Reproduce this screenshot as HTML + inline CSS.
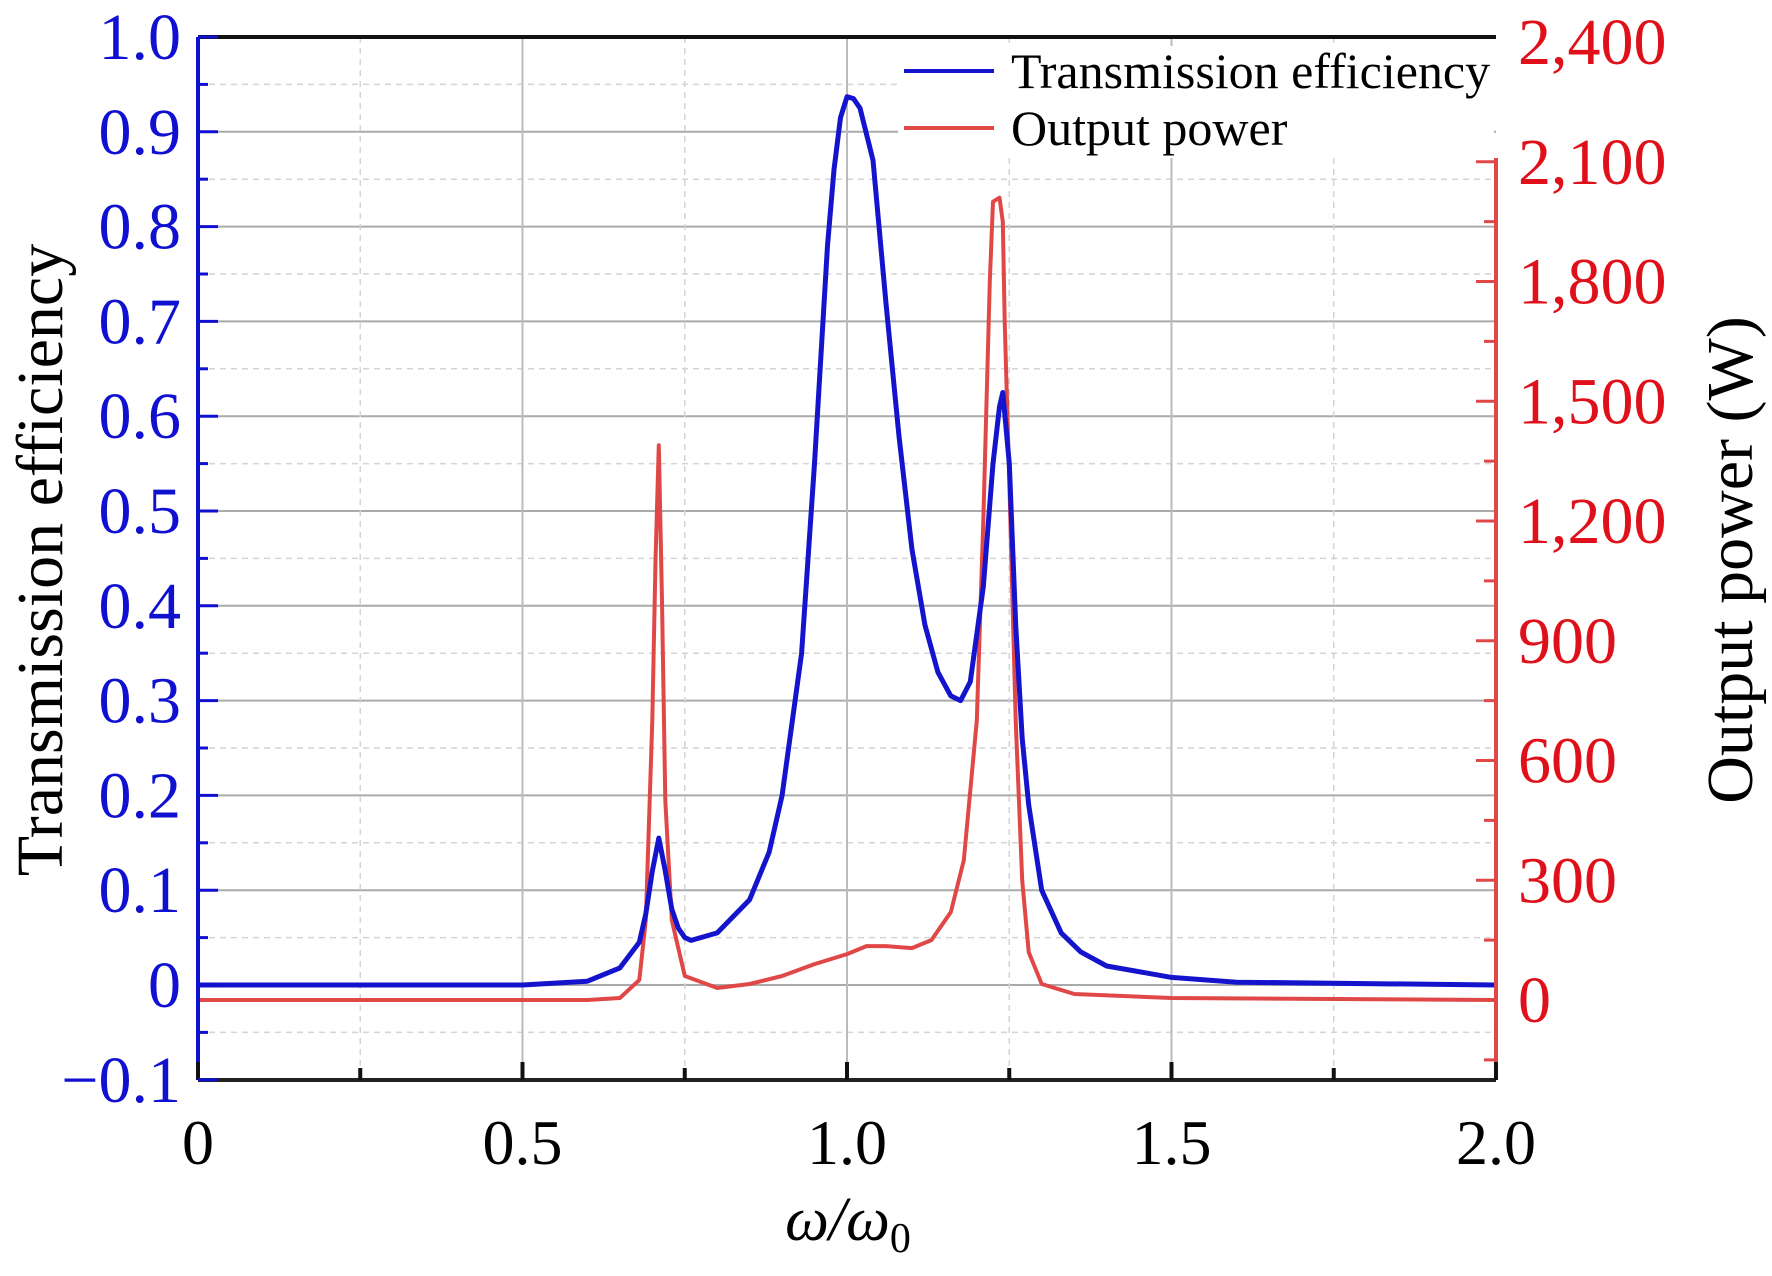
<!DOCTYPE html>
<html><head><meta charset="utf-8"><style>
html,body{margin:0;padding:0;background:#fff;}
svg{display:block;font-family:"Liberation Serif",serif;}
</style></head><body>
<svg id="chart" width="1772" height="1276" viewBox="0 0 1772 1276" xmlns="http://www.w3.org/2000/svg">
<g id="grid"></g>
<g id="series"></g>
<g id="axes"></g>
<g id="legend"></g>
</svg>
<script>
const xTicks = [0, 0.5, 1.0, 1.5, 2.0];
const xTickLabels = ["0", "0.5", "1.0", "1.5", "2.0"];
const yLeftTicks = [-0.1, 0, 0.1, 0.2, 0.3, 0.4, 0.5, 0.6, 0.7, 0.8, 0.9, 1.0];
const yLeftLabels = ["\u22120.1", "0", "0.1", "0.2", "0.3", "0.4", "0.5", "0.6", "0.7", "0.8", "0.9", "1.0"];
const yRightTicks = [0, 300, 600, 900, 1200, 1500, 1800, 2100, 2400];
const yRightLabels = ["0", "300", "600", "900", "1,200", "1,500", "1,800", "2,100", "2,400"];

const transX = [0,0.5,0.6,0.65,0.68,0.69,0.70,0.71,0.72,0.73,0.74,0.75,0.76,0.8,0.85,0.88,0.9,0.93,0.95,0.97,0.98,0.99,1.0,1.01,1.02,1.04,1.06,1.08,1.1,1.12,1.14,1.16,1.175,1.19,1.21,1.225,1.235,1.24,1.25,1.26,1.27,1.28,1.3,1.33,1.36,1.4,1.5,1.6,2.0];
const transY = [0,0,0.004,0.018,0.045,0.075,0.12,0.155,0.12,0.08,0.06,0.05,0.047,0.055,0.09,0.14,0.2,0.35,0.55,0.78,0.86,0.915,0.937,0.935,0.925,0.87,0.72,0.58,0.46,0.38,0.33,0.305,0.30,0.32,0.42,0.55,0.61,0.625,0.55,0.38,0.26,0.19,0.1,0.055,0.035,0.02,0.008,0.003,0];

const powX = [0,0.6,0.65,0.68,0.69,0.70,0.705,0.71,0.715,0.72,0.73,0.75,0.8,0.85,0.9,0.95,1.0,1.03,1.06,1.1,1.13,1.16,1.18,1.2,1.21,1.22,1.225,1.235,1.24,1.243,1.25,1.26,1.27,1.28,1.3,1.35,1.5,2.0];
const powY = [0,0,5,50,200,700,1100,1390,1000,500,200,60,30,40,60,90,115,135,135,130,150,220,350,700,1200,1800,2000,2010,1950,1700,1300,700,300,120,40,15,5,0];

const L=198,R=1496,T=37,B=1080;
const sx=v=>L+(v-0)/2*(R-L);
const syL=v=>985-v*948;
const syR=v=>1000-v*(958/2400);
const NS="http://www.w3.org/2000/svg";
function mk(tag,attrs,parent){const e=document.createElementNS(NS,tag);for(const k in attrs)e.setAttribute(k,attrs[k]);parent.appendChild(e);return e;}
const grid=document.getElementById('grid'),series=document.getElementById('series'),axes=document.getElementById('axes'),legend=document.getElementById('legend');

for(let i=0;i<=22;i++){const v=-0.1+i*0.05;const y=syL(v);const major=i%2==0;
 const g=mk('line',{x1:L,x2:R,y1:y,y2:y,stroke:major?'#aaa':'#d4d4d4','stroke-width':major?2:1.5,'stroke-dasharray':major?'none':'6 5'},grid);
 
 }
for(let i=1;i<8;i++){const v=i*0.25;const x=sx(v);const major=i%2==0;
 const g=mk('line',{x1:x,x2:x,y1:T,y2:B,stroke:major?'#bbb':'#d4d4d4','stroke-width':major?2:1.5,'stroke-dasharray':major?'none':'6 5'},grid);
 
 }

const tp=transX.map((x,i)=>sx(x).toFixed(1)+','+syL(transY[i]).toFixed(1)).join(' ');
const pp=powX.map((x,i)=>sx(x).toFixed(1)+','+syR(powY[i]).toFixed(1)).join(' ');
const pl=mk('polyline',{points:pp,fill:'none',stroke:'#e04848','stroke-width':4,'stroke-linejoin':'round'},series);


const tl=mk('polyline',{points:tp,fill:'none',stroke:'#1414cc','stroke-width':5,'stroke-linejoin':'round'},series);



const lb=mk('rect',{x:898,y:46,width:596,height:112,fill:'#fff'},legend);


const l1=mk('line',{x1:904,x2:994,y1:71,y2:71,stroke:'#1414cc','stroke-width':4},legend);


const t1=mk('text',{x:1011,y:88,'font-size':50,fill:'#000'},legend);t1.textContent='Transmission efficiency';


const l2=mk('line',{x1:904,x2:994,y1:128,y2:128,stroke:'#e04848','stroke-width':4},legend);


const t2=mk('text',{x:1011,y:145,'font-size':50,fill:'#000'},legend);t2.textContent='Output power';



let s;
s=mk('line',{x1:L,x2:R,y1:T,y2:T,stroke:'#111','stroke-width':4},axes);
s=mk('line',{x1:L,x2:R,y1:B,y2:B,stroke:'#222','stroke-width':4},axes);
s=mk('line',{x1:L,x2:L,y1:T,y2:B,stroke:'#1010d0','stroke-width':4},axes);
s=mk('line',{x1:R,x2:R,y1:158,y2:B,stroke:'#e04848','stroke-width':4},axes);

for(let i=0;i<=8;i++){const x=sx(i*0.25);const t=mk('line',{x1:x,x2:x,y1:B,y2:B-(i%2==0?18:12),stroke:'#111','stroke-width':4},axes);
 
 }
xTicks.forEach((v,i)=>{const t=mk('text',{x:sx(v),y:1164,'font-size':64,'text-anchor':'middle',fill:'#000'},axes);t.textContent=xTickLabels[i];
 
 });

for(let i=0;i<=22;i++){const y=syL(-0.1+i*0.05);const t=mk('line',{x1:L,x2:L+(i%2==0?20:10),y1:y,y2:y,stroke:'#1010d0','stroke-width':3},axes);
 
 }
yLeftTicks.forEach((v,i)=>{const t=mk('text',{x:181,y:syL(v)+22,'font-size':66,'text-anchor':'end',fill:'#1010d0'},axes);t.textContent=yLeftLabels[i];
 
 });

for(let v=-150;v<=2400;v+=150){const y=syR(v);if(y<158)continue;const t=mk('line',{x1:R,x2:R-(v%300==0?20:12),y1:y,y2:y,stroke:'#e04848','stroke-width':3},axes);
 
 }
yRightTicks.forEach((v,i)=>{const t=mk('text',{x:1518,y:syR(v)+22,'font-size':66,'text-anchor':'start',fill:'#e0101a'},axes);t.textContent=yRightLabels[i];
 
 });

let tt=mk('text',{x:0,y:0,'font-size':66,'text-anchor':'middle',fill:'#000',transform:'translate(62,560) rotate(-90)'},axes);tt.textContent='Transmission efficiency';


tt=mk('text',{x:0,y:0,'font-size':66,'text-anchor':'middle',fill:'#000',transform:'translate(1752,560) rotate(-90)'},axes);tt.textContent='Output power (W)';


tt=mk('text',{x:848,y:1240,'font-size':62,'text-anchor':'middle',fill:'#000','font-style':'italic'},axes);
tt.innerHTML='ω/ω<tspan font-style="normal" font-size="42" dy="12">0</tspan>';


</script>
</body></html>
